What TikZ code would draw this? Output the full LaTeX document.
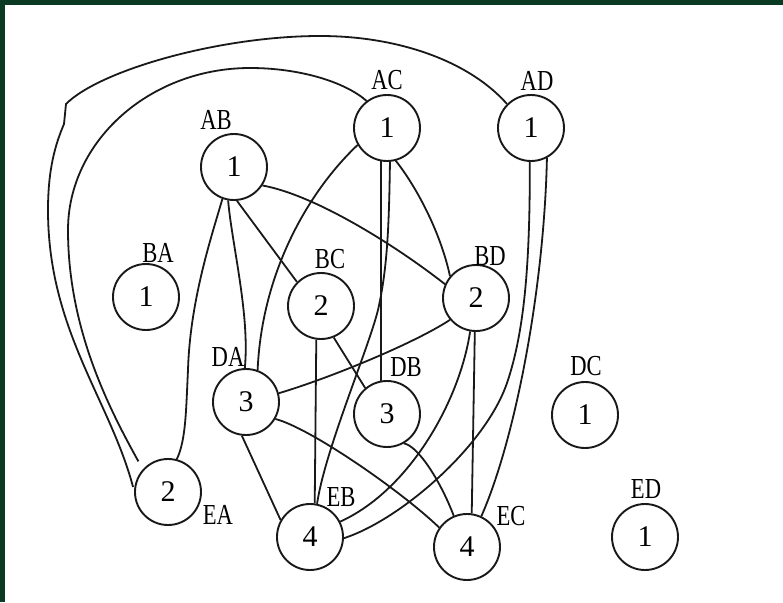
\documentclass[tikz,border=0pt]{standalone}
\usepackage{fontspec}
\usepackage{graphicx}
\setmainfont{Liberation Serif}
\definecolor{frame}{RGB}{10,58,36}
\definecolor{ink}{RGB}{25,25,25}
\newcommand\nlab[1]{\scalebox{0.78}[1]{#1}}
\begin{document}
\begin{tikzpicture}[x=1pt,y=-1pt,
  state/.style={draw=ink,circle,line width=1.9pt,minimum size=66pt,inner sep=0pt,font=\fontsize{30}{30}\selectfont},
  tag/.style={inner sep=0pt,font=\fontsize{29}{29}\selectfont},
  edge/.style={draw=ink,line width=1.8pt}]
\fill[white] (0,0) rectangle (783,602);
\useasboundingbox (0,0) rectangle (783,602);
\fill[frame] (0,0) rectangle (783,5);
\fill[frame] (0,0) rectangle (5,602);

% states
\node[state] (AB) at (234,167) {1};
\node[state] (AC) at (387,128) {1};
\node[state] (AD) at (531,128) {1};
\node[state] (BA) at (146,297) {1};
\node[state] (BC) at (321,306) {2};
\node[state] (BD) at (476,298) {2};
\node[state] (DA) at (246,402) {3};
\node[state] (DB) at (387,414) {3};
\node[state] (DC) at (585,415) {1};
\node[state] (EA) at (168,492) {2};
\node[state] (EB) at (310,537) {4};
\node[state] (EC) at (467,547) {4};
\node[state] (ED) at (645,537) {1};

% labels
\node[tag] (lAB) at (216,120) {\nlab{AB}};
\node[tag] (lAC) at (387,80) {\nlab{AC}};
\node[tag] (lAD) at (537,81) {\nlab{AD}};
\node[tag] (lBA) at (158,253) {\nlab{BA}};
\node[tag] (lBC) at (330,259) {\nlab{BC}};
\node[tag] (lBD) at (490,256) {\nlab{BD}};
\node[tag] (lDA) at (228,357) {\nlab{DA}};
\node[tag] (lDB) at (406,367) {\nlab{DB}};
\node[tag] (lDC) at (586,366) {\nlab{DC}};
\node[tag] (lEA) at (218,515) {\nlab{EA}};
\node[tag] (lEB) at (341,497) {\nlab{EB}};
\node[tag] (lEC) at (511,516) {\nlab{EC}};
\node[tag] (lED) at (646,489) {\nlab{ED}};

% connectors
\draw[edge] (AB.-85) -- (BC.135);
\draw[edge] (AB.-33) .. controls (315,195) and (395,245) .. (BD.156);
\draw[edge] (AB.-100) .. controls (232,245) and (250,315) .. (DA.92);
\draw[edge] (AB.-110) .. controls (212,235) and (190,300) .. (188,370) .. controls (186,410) and (186,440) .. (EA.75);
\draw[edge] (AC.-150) .. controls (310,190) and (262,270) .. (DA.70);
\draw[edge] (AC.-100) -- (DB.100);
\draw[edge] (AC.-85) .. controls (389,230) and (387,270) .. (378,310) .. controls (368,350) and (325,450) .. (EB.78);
\draw[edge] (AC.-75) .. controls (415,185) and (440,230) .. (BD.140);
\draw[edge] (AD.-92) .. controls (530,260) and (525,330) .. (507,383) .. controls (485,447) and (400,520) .. (EB.-2);
\draw[edge] (AD.-62) .. controls (544,290) and (515,440) .. (EC.65);
\draw[edge] (BD.-100) .. controls (460,400) and (410,490) .. (EB.27);
\draw[edge] (BD.-92) -- (EC.82);
\draw[edge] (BD.-140) .. controls (415,343) and (330,378) .. (DA.15);
\draw[edge] (BC.-98) -- (EB.82);
\draw[edge] (BC.-68) -- (DB.130);
\draw[edge] (DA.-97) -- (EB.150);
\draw[edge] (DA.-30) .. controls (310,428) and (400,490) .. (EC.145);
\draw[edge] (DB.-60) .. controls (418,446) and (440,480) .. (EC.113);
% long loops
\draw[edge,shorten >=9pt] (AC.127) .. controls (345,82) and (300,68) .. (250,68)
  .. controls (150,68) and (68,141) .. (68,230)
  .. controls (68,330) and (110,410) .. (EA.138);
\draw[edge,shorten >=4pt] (AD.135) .. controls (470,62) and (400,36) .. (320,36)
  .. controls (220,36) and (100,70) .. (66,104) -- (64,124)
  .. controls (55,145) and (48,170) .. (48,210)
  .. controls (48,330) and (110,400) .. (EA.178);
\end{tikzpicture}
\end{document}
